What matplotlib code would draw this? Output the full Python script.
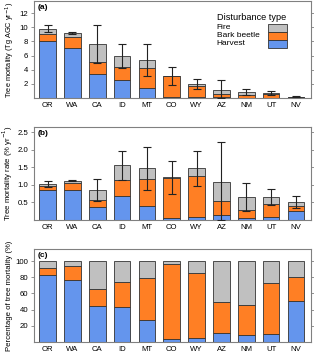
import matplotlib
matplotlib.use("Agg")
import matplotlib.pyplot as plt
from matplotlib.patches import Rectangle
import numpy as np

plt.rcParams['font.family'] = ['Liberation Sans', 'DejaVu Sans']

states = ["OR", "WA", "CA", "ID", "MT", "CO", "WY", "AZ", "NM", "UT", "NV"]

# (a) Tree mortality (Tg AGC / yr)
harvest_a = [8.10, 7.05, 3.33, 2.62, 1.48, 0.12, 0.09, 0.14, 0.07, 0.07, 0.10]
beetle_a  = [0.90, 1.62, 1.72, 1.76, 2.81, 2.93, 1.55, 0.45, 0.31, 0.44, 0.06]
fire_a    = [0.76, 0.57, 2.57, 1.62, 1.09, 0.10, 0.29, 0.61, 0.47, 0.19, 0.04]
err_a     = [0.50, 0.15, 2.70, 1.70, 2.25, 1.25, 0.70, 1.35, 0.45, 0.25, 0.08]

# (b) Tree mortality rate (% / yr)
harvest_b = [0.85, 0.85, 0.38, 0.67, 0.39, 0.05, 0.08, 0.13, 0.05, 0.07, 0.25]
beetle_b  = [0.11, 0.19, 0.18, 0.47, 0.78, 1.15, 1.17, 0.40, 0.22, 0.38, 0.15]
fire_b    = [0.07, 0.08, 0.30, 0.42, 0.30, 0.02, 0.22, 0.54, 0.38, 0.19, 0.10]
err_b     = [0.08, 0.015, 0.31, 0.42, 0.62, 0.47, 0.50, 1.15, 0.41, 0.23, 0.17]

# (c) Percentage of tree mortality (%)
harvest_c = [82.5, 76.7, 44.3, 43.0, 27.0, 3.7, 4.9, 11.5, 8.6, 9.8, 50.5]
beetle_c  = [9.4, 17.7, 20.9, 30.8, 52.6, 93.1, 80.0, 37.3, 36.5, 62.8, 30.3]
fire_c    = [8.1, 5.6, 34.8, 26.2, 20.4, 3.2, 15.1, 51.2, 54.9, 27.4, 19.2]

C_H = "#6495ED"
C_B = "#FF7F24"
C_F = "#C0C0C0"
EDGE = "#333333"
SPINE = "#808080"
FS = 5.6

fig = plt.figure(figsize=(3.14, 3.54), dpi=100)
L, R = 0.108, 0.990
axa = fig.add_axes([L, 0.723, R - L, 0.997 - 0.723])
axb = fig.add_axes([L, 0.379, R - L, 0.641 - 0.379])
axc = fig.add_axes([L, 0.034, R - L, 0.297 - 0.034])

x = np.arange(len(states))
W = 0.67


def stack(ax, h, b, f, err=None):
    h = np.array(h); b = np.array(b); f = np.array(f)
    kw = dict(width=W, edgecolor=EDGE, linewidth=0.6, zorder=2)
    ax.bar(x, h, color=C_H, **kw)
    ax.bar(x, b, bottom=h, color=C_B, **kw)
    ax.bar(x, f, bottom=h + b, color=C_F, **kw)
    if err is not None:
        tot = h + b + f
        err = np.array(err)
        lo = np.minimum(err, tot)
        ax.errorbar(x, tot, yerr=[lo, err], fmt='none', ecolor='#222222',
                    elinewidth=0.8, capsize=2.6, capthick=0.8, zorder=3)


def style(ax, ylim, yticks, ylabel, tag, lfs):
    ax.set_xlim(-0.55, 10.6)
    ax.set_ylim(*ylim)
    ax.set_yticks(yticks)
    ax.set_xticks(x)
    ax.set_xticklabels(states)
    for s in ax.spines.values():
        s.set_color(SPINE)
        s.set_linewidth(0.8)
    ax.tick_params(axis='x', length=0, labelsize=FS, pad=3)
    ax.tick_params(axis='y', length=2.5, width=0.6, color=SPINE, labelsize=FS,
                   pad=1.5, right=True, direction='out')
    ax.set_ylabel(ylabel, fontsize=lfs, labelpad=2)
    ax.text(0.012, 0.97, tag, transform=ax.transAxes, fontsize=FS + 0.4,
            fontweight='bold', va='top', ha='left')


stack(axa, harvest_a, beetle_a, fire_a, err_a)
stack(axb, harvest_b, beetle_b, fire_b, err_b)
stack(axc, harvest_c, beetle_c, fire_c)

style(axa, (0, 13.7), [2, 4, 6, 8, 10, 12], r'Tree mortality (Tg AGC yr$^{-1}$)', '(a)', 5.3)
style(axb, (0, 2.65), [0.5, 1.0, 1.5, 2.0, 2.5], r'Tree mortality rate (% yr$^{-1}$)', '(b)', 5.6)
style(axc, (0, 115), [20, 40, 60, 80, 100], 'Percentage of tree mortality (%)', '(c)', 5.6)

# legend in panel (a)
axa.text(0.66, 0.835, "Disturbance type", transform=axa.transAxes,
         fontsize=FS + 1.0, va='center', ha='left')
labels = ["Fire", "Bark beetle", "Harvest"]
cols = [C_F, C_B, C_H]
ph = 0.0825
top = 0.763
for i, (lab, c) in enumerate(zip(labels, cols)):
    yc = top - ph * (i + 0.5)
    axa.text(0.66, yc + 0.01, lab, transform=axa.transAxes, fontsize=FS + 0.4,
             va='center', ha='left')
    axa.add_patch(Rectangle((0.845, top - ph * (i + 1)), 0.068, ph,
                            transform=axa.transAxes, facecolor=c,
                            edgecolor=EDGE, linewidth=0.6, zorder=4))

fig.savefig("out.png", dpi=100)
